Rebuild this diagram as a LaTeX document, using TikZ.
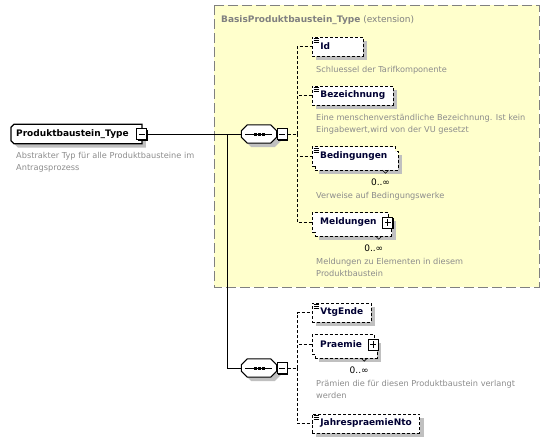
\documentclass[tikz,border=0pt]{standalone}
\usepackage{fontspec}
\setmainfont{DejaVu Sans}
\usetikzlibrary{shadows, backgrounds}

\definecolor{extfill}{HTML}{FFFFCC}
\definecolor{extline}{HTML}{808080}
\definecolor{desctext}{HTML}{8C8C8C}
\definecolor{shadowgray}{HTML}{C0C0C0}
\definecolor{nametext}{HTML}{000033}

% outline of a sequence symbol: node, chamfer, dx, dy
\newcommand\octpath[4]{([shift={(#2+#3,#4)}]#1.north west) -- ([shift={(-#2+#3,#4)}]#1.north east)
  -- ([shift={(#3,#2+#4)}]#1.north east) -- ([shift={(#3,-#2+#4)}]#1.south east)
  -- ([shift={(-#2+#3,#4)}]#1.south east) -- ([shift={(#2+#3,#4)}]#1.south west)
  -- ([shift={(#3,-#2+#4)}]#1.south west) -- ([shift={(#3,#2+#4)}]#1.north west) -- cycle}
% outline of the root type: node, dx, dy
\newcommand\typepath[3]{([shift={(3+#2,#3)}]#1.north west) -- ([shift={(#2,#3)}]#1.north east)
  -- ([shift={(#2,#3)}]#1.south east) -- ([shift={(3+#2,#3)}]#1.south west)
  -- ([shift={(#2,-3+#3)}]#1.south west) -- ([shift={(#2,3+#3)}]#1.north west) -- cycle}

\tikzset{
  namefont/.style={font=\bfseries\fontsize{9}{11}\selectfont, text=nametext},
  padright/.style={execute at end node={\hspace*{#1}}},
  elem/.style={namefont, draw, dash pattern=on 3pt off 2pt, line width=0.8pt, fill=white,
    anchor=west, minimum height=19pt, inner xsep=8pt, inner ysep=0pt,
    drop shadow={shadow xshift=4pt, shadow yshift=-4pt, fill=shadowgray, opacity=1}},
  multi/.style={namefont, fill=white, anchor=west, minimum height=19pt, inner xsep=8pt, inner ysep=0pt,
    drop shadow={shadow xshift=7pt, shadow yshift=-8pt, fill=shadowgray, opacity=1},
    copy shadow={shadow xshift=3pt, shadow yshift=-4pt, draw=black, fill=white,
      line width=0.8pt, dash pattern=on 3pt off 2pt}},
  edge line/.style={line width=0.8pt, dash pattern=on 3pt off 2pt},
  root/.style={namefont, text=black, anchor=west, minimum height=19pt, inner xsep=5pt, inner ysep=0pt, padright=8pt},
  seq/.style={minimum width=35pt, minimum height=18pt, inner sep=0pt},
  outline/.style={draw=black, fill=white, line width=#1},
  ctrl/.style={draw, line width=1pt, fill=white, minimum width=10pt, minimum height=11pt, inner sep=0pt,
    drop shadow={shadow xshift=1pt, shadow yshift=-1pt, fill=black, opacity=1}},
  minus/.style={ctrl, path picture={
      \draw[line width=1pt] ([xshift=2pt]path picture bounding box.west) -- ([xshift=-2pt]path picture bounding box.east);}},
  plus/.style={ctrl, path picture={
      \draw[line width=1pt] ([xshift=2pt]path picture bounding box.west) -- ([xshift=-2pt]path picture bounding box.east);
      \draw[line width=1pt] ([yshift=-2pt]path picture bounding box.north) -- ([yshift=2pt]path picture bounding box.south);}},
  desc/.style={anchor=north west, inner sep=0pt, align=left, text=desctext, font=\fontsize{8.2}{12.5}\selectfont},
  occ/.style={inner sep=0pt, font=\fontsize{9}{11}\selectfont},
  link/.style={line width=1pt},
  conn/.style={line width=0.8pt, dash pattern=on 3pt off 2pt},
  ext/.style={fill=extfill, draw=extline, line width=1pt, dash pattern=on 10pt off 4pt}
}

\begin{document}
\begin{tikzpicture}[x=1pt, y=-1pt]
  \useasboundingbox (0,0) rectangle (550,442);

  \node[anchor=base west, inner sep=0pt, text=extline, font=\fontsize{9}{11}\selectfont] (exttitle) at (221,22)
    {\textbf{BasisProduktbaustein\_Type} (extension)};

  % root type
  \node[root] (prod) at (11,134) {Produktbaustein\_Type};
  \node[minus] (prodm) at (prod.east) {};
  \node[desc] (proddesc) at (16,152) {Abstrakter Typ für alle Produktbausteine im\\Antragsprozess};

  % sequences
  \node[seq] (seqa) at (259,134) {};
  \node[minus, anchor=west] (seqam) at (seqa.east) {};
  \node[seq] (seqb) at (259,368) {};
  \node[minus, anchor=west] (seqbm) at (seqb.east) {};
  \foreach \s in {seqa,seqb} {
    \draw[link] ([xshift=4pt]\s.west) -- ([xshift=-5pt]\s.east);
    \foreach \dx in {-4,0,4}
      \fill ([xshift=\dx pt]\s.center) ++(-1.5pt,-1.5pt) rectangle ++(3pt,3pt);
  }
  \coordinate (trunk) at (227,134);
  \draw[link] (prodm.east) -- (seqa.west);
  \draw[link] (trunk) |- (seqb.west);

  % children of the extension
  \node[elem, padright=25pt] (id) at (312,46.5) {Id};
  \node[desc] (iddesc) at (316,66) {Schluessel der Tarifkomponente};
  \node[elem] (bez) at (312,95.5) {Bezeichnung};
  \node[desc] (bezdesc) at (316,114) {Eine menschenverständliche Bezeichnung. Ist kein\\Eingabewert,wird von der VU gesetzt};
  \node[multi] (bed) at (312,156.5) {Bedingungen};
  \node[occ] (bedocc) at ([shift={(-15,16)}]bed.south east) {0..∞};
  \node[desc] (beddesc) at (316,192) {Verweise auf Bedingungswerke};
  \node[multi, padright=4pt] (meld) at (312,222.5) {Meldungen};
  \node[plus] (meldp) at ([xshift=-1pt]meld.east) {};
  \node[occ] (meldocc) at ([shift={(-15,16)}]meld.south east) {0..∞};
  \node[desc] (melddesc) at (316,258) {Meldungen zu Elementen in diesem\\Produktbaustein};

  % children of the own sequence
  \node[elem] (vtg) at (312,312.5) {VtgEnde};
  \node[multi, padright=4pt] (praem) at (312,344.5) {Praemie};
  \node[plus] (praemp) at ([xshift=-1pt]praem.east) {};
  \node[occ] (praemocc) at ([shift={(-15,16)}]praem.south east) {0..∞};
  \node[desc] (praemdesc) at (316,380) {Prämien die für diesen Produktbaustein verlangt\\werden};
  \node[elem] (jpn) at (312,423.5) {JahrespraemieNto};

  % front edges of the repeated elements
  \foreach \n in {bed,meld,praem} {
    \draw[edge line] ([shift={(3,0)}]\n.south west) -- (\n.south west) -- (\n.north west)
      -- (\n.north east) -- ([shift={(0,4)}]\n.north east);
    \draw[line width=0.6pt] ([shift={(-13,4)}]\n.south east) -- ++(3,3) -- ++(3,-3);
  }
  % simple type marks
  \foreach \n in {id,bez,bed,vtg,jpn}
    \foreach \k in {0,2,4}
      \draw[line width=0.8pt] ([shift={(1.5,2+\k)}]\n.north west) -- ++(5,0);

  % dashed connectors
  \coordinate (busa) at (297,134);
  \coordinate (busb) at (297,368);
  \draw[conn] (seqam.east) -- (busa);
  \draw[conn] (seqbm.east) -- (busb);
  \foreach \n in {id,bez,bed,meld}
    \draw[conn] (busa) |- (\n.west);
  \foreach \n in {vtg,praem,jpn}
    \draw[conn] (busb) |- (\n.west);

  % frame, type box and sequence outlines
  \begin{scope}[on background layer]
    \draw[ext] (214,5) rectangle (539,287);
    \fill[shadowgray] \typepath{prod}{4}{4};
    \draw[outline=1.2pt] \typepath{prod}{0}{0};
    \foreach \s in {seqa,seqb} {
      \fill[shadowgray] \octpath{\s}{6}{4}{4};
      \draw[outline=1pt] \octpath{\s}{6}{0}{0};
    }
  \end{scope}
\end{tikzpicture}
\end{document}
